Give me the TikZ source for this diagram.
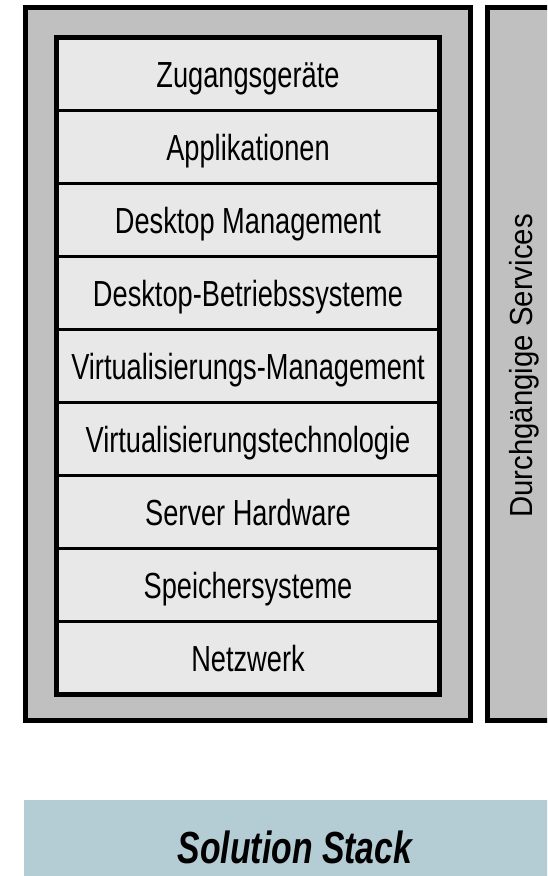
\documentclass[tikz,border=0pt]{standalone}
\usepackage{fontspec}
\setmainfont{Liberation Sans}[FakeStretch=0.75]
\newfontfamily\servicefont{Liberation Sans}[FakeStretch=0.92]
\definecolor{framegray}{HTML}{C0C0C0}
\definecolor{layergray}{HTML}{E8E8E8}
\definecolor{stackblue}{HTML}{B4CCD4}
\tikzset{
  layer/.style={draw, line width=2.8pt, fill=layergray, inner sep=0pt,
    minimum width=9.575cm, minimum height=1.825cm,
    text height=18.5pt, text depth=0pt, font=\fontsize{25.8}{30}\selectfont},
  frame/.style={draw, line width=3.5pt, fill=framegray}
}
\begin{document}
\begin{tikzpicture}[x=0.025cm,y=-0.025cm]
    \clip (0,0) rectangle (547,876);
    \fill[white] (0,0) rectangle (547,876);
    % Rahmen
    \path[frame] (25.5,7.5) rectangle (470.5,720.5);
    \path[frame] (487.5,7.5) rectangle (575,720.5);
    % Schichten
    \node[layer] (zugang) at (248,74) {Zugangsgeräte};
    \node[layer] (appl) at (248,147) {Applikationen};
    \node[layer] (dtmgmt) at (248,220) {Desktop Management};
    \node[layer] (dtos) at (248,293) {Desktop-Betriebssysteme};
    \node[layer] (virtmgmt) at (248,366) {Virtualisierungs-Management};
    \node[layer] (virttech) at (248,439) {Virtualisierungstechnologie};
    \node[layer] (server) at (248,512) {Server Hardware};
    \node[layer] (speicher) at (248,585) {Speichersysteme};
    \node[layer] (netz) at (248,658) {Netzwerk};
    \draw[line width=3.5pt] (56.5,37.5) rectangle (439.5,694.5);
    % Services
    \node[rotate=90, inner sep=0pt, text height=16.3pt, text depth=0pt,
      font=\servicefont\fontsize{22.7}{26}\selectfont] (services) at (521.5,366) {Durchgängige Services};
    % Stack
    \fill[stackblue] (24,800) rectangle (580,890);
    \node[inner sep=0pt, text height=22.9pt, text depth=0pt,
      font=\fontsize{32}{36}\selectfont\bfseries\itshape] (stack) at (295,847) {Solution Stack};
\end{tikzpicture}
\end{document}
